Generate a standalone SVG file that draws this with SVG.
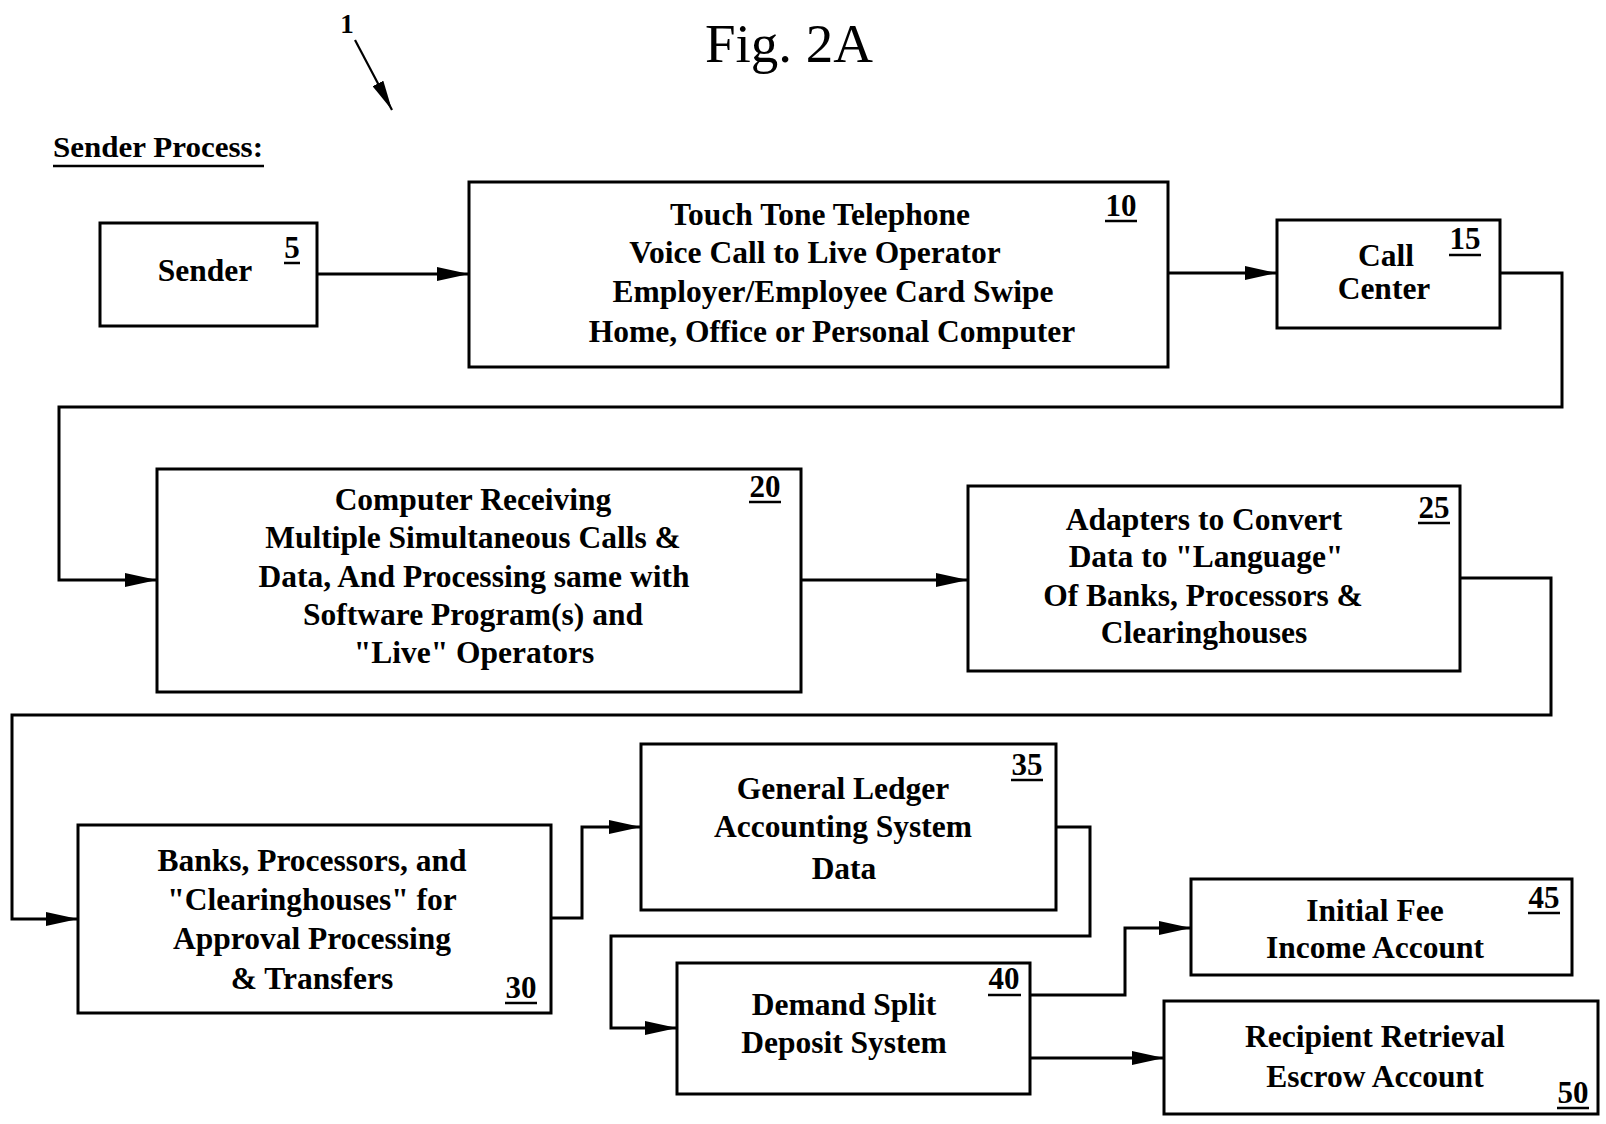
<svg xmlns="http://www.w3.org/2000/svg" width="1606" height="1124" viewBox="0 0 1606 1124">
  <style>
    .box { fill: #fff; stroke: #000; stroke-width: 3; }
    .t { font-family: "Liberation Serif", "Times New Roman", serif; font-weight: bold; font-size: 31.5px; text-anchor: middle; fill: #000; }
    .n { font-family: "Liberation Serif", "Times New Roman", serif; font-weight: bold; font-size: 31px; text-anchor: middle; fill: #000; }
    .ul { stroke: #000; stroke-width: 2.5; }
    .conn { fill: none; stroke: #000; stroke-width: 3; }
  </style>
  <defs>
    <marker id="arrow" markerUnits="userSpaceOnUse" markerWidth="32" markerHeight="14" refX="32" refY="7" orient="auto">
      <path d="M0,0 L32,7 L0,14 Z" fill="#000"/>
    </marker>
    <marker id="arrowThin" markerUnits="userSpaceOnUse" markerWidth="30" markerHeight="12" refX="30" refY="6" orient="auto">
      <path d="M0,0 L30,6 L0,12 Z" fill="#000"/>
    </marker>
  </defs>
  <rect width="1606" height="1124" fill="#fff"/>

  <!-- heading -->
  <g id="title">
    <text x="789" y="62" font-family="Liberation Serif, Times New Roman, serif" font-size="55" text-anchor="middle">Fig. 2A</text>
    <text x="347" y="33" font-family="Liberation Serif, Times New Roman, serif" font-weight="bold" font-size="27" text-anchor="middle">1</text>
    <text x="53" y="157" font-family="Liberation Serif, Times New Roman, serif" font-weight="bold" font-size="30" textLength="210" lengthAdjust="spacingAndGlyphs">Sender Process:</text>
    <line class="ul" x1="53" y1="166" x2="264" y2="166"/>
  </g>

  <!-- connectors -->
  <g id="connectors">
    <path class="conn" style="stroke-width:2.2" d="M355,40 L392,110" marker-end="url(#arrowThin)"/>
    <path class="conn" d="M317,274 L469,274" marker-end="url(#arrow)"/>
    <path class="conn" d="M1168,273 L1277,273" marker-end="url(#arrow)"/>
    <path class="conn" d="M1500,273 L1562,273 L1562,407 L59,407 L59,580 L157,580" marker-end="url(#arrow)"/>
    <path class="conn" d="M801,580 L968,580" marker-end="url(#arrow)"/>
    <path class="conn" d="M1460,578 L1551,578 L1551,715 L12,715 L12,919 L78,919" marker-end="url(#arrow)"/>
    <path class="conn" d="M551,918 L582,918 L582,827 L641,827" marker-end="url(#arrow)"/>
    <path class="conn" d="M1056,827 L1090,827 L1090,936 L611,936 L611,1028 L677,1028" marker-end="url(#arrow)"/>
    <path class="conn" d="M1030,995 L1125,995 L1125,928 L1191,928" marker-end="url(#arrow)"/>
    <path class="conn" d="M1030,1058 L1164,1058" marker-end="url(#arrow)"/>
  </g>

  <!-- nodes -->
  <g id="node5">
    <rect class="box" x="100" y="223" width="217" height="103"/>
    <text class="t" x="205" y="281">Sender</text>
    <text class="n" x="292" y="258">5</text>
    <line class="ul" x1="284" y1="263" x2="300" y2="263"/>
  </g>

  <g id="node10">
    <rect class="box" x="469" y="182" width="699" height="185"/>
    <text class="t" x="820" y="225">Touch Tone Telephone</text>
    <text class="t" x="815" y="263">Voice Call to Live Operator</text>
    <text class="t" x="833" y="302">Employer/Employee Card Swipe</text>
    <text class="t" x="832" y="342">Home, Office or Personal Computer</text>
    <text class="n" x="1121" y="216">10</text>
    <line class="ul" x1="1105" y1="221" x2="1137" y2="221"/>
  </g>

  <g id="node15">
    <rect class="box" x="1277" y="220" width="223" height="108"/>
    <text class="t" x="1386" y="266">Call</text>
    <text class="t" x="1384" y="299">Center</text>
    <text class="n" x="1465" y="249">15</text>
    <line class="ul" x1="1449" y1="255" x2="1481" y2="255"/>
  </g>

  <g id="node20">
    <rect class="box" x="157" y="469" width="644" height="223"/>
    <text class="t" x="473" y="510">Computer Receiving</text>
    <text class="t" x="473" y="548">Multiple Simultaneous Calls &amp;</text>
    <text class="t" x="474" y="587">Data, And Processing same with</text>
    <text class="t" x="473" y="625">Software Program(s) and</text>
    <text class="t" x="474" y="663">"Live" Operators</text>
    <text class="n" x="765" y="497">20</text>
    <line class="ul" x1="749" y1="502" x2="781" y2="502"/>
  </g>

  <g id="node25">
    <rect class="box" x="968" y="486" width="492" height="185"/>
    <text class="t" x="1204" y="530">Adapters to Convert</text>
    <text class="t" x="1206" y="567">Data to "Language"</text>
    <text class="t" x="1203" y="606">Of Banks, Processors &amp;</text>
    <text class="t" x="1204" y="643">Clearinghouses</text>
    <text class="n" x="1434" y="518">25</text>
    <line class="ul" x1="1418" y1="523" x2="1450" y2="523"/>
  </g>

  <g id="node30">
    <rect class="box" x="78" y="825" width="473" height="188"/>
    <text class="t" x="312" y="871">Banks, Processors, and</text>
    <text class="t" x="312" y="910">"Clearinghouses" for</text>
    <text class="t" x="312" y="949">Approval Processing</text>
    <text class="t" x="312" y="989">&amp; Transfers</text>
    <text class="n" x="521" y="998">30</text>
    <line class="ul" x1="505" y1="1003" x2="537" y2="1003"/>
  </g>

  <g id="node35">
    <rect class="box" x="641" y="744" width="415" height="166"/>
    <text class="t" x="843" y="799">General Ledger</text>
    <text class="t" x="843" y="837">Accounting System</text>
    <text class="t" x="844" y="879">Data</text>
    <text class="n" x="1027" y="775">35</text>
    <line class="ul" x1="1011" y1="780" x2="1043" y2="780"/>
  </g>

  <g id="node40">
    <rect class="box" x="677" y="963" width="353" height="131"/>
    <text class="t" x="844" y="1015">Demand Split</text>
    <text class="t" x="844" y="1053">Deposit System</text>
    <text class="n" x="1004" y="989">40</text>
    <line class="ul" x1="988" y1="995" x2="1021" y2="995"/>
  </g>

  <g id="node45">
    <rect class="box" x="1191" y="879" width="381" height="96"/>
    <text class="t" x="1375" y="921">Initial Fee</text>
    <text class="t" x="1375" y="958">Income Account</text>
    <text class="n" x="1544" y="908">45</text>
    <line class="ul" x1="1528" y1="913" x2="1560" y2="913"/>
  </g>

  <g id="node50">
    <rect class="box" x="1164" y="1001" width="434" height="113"/>
    <text class="t" x="1375" y="1047">Recipient Retrieval</text>
    <text class="t" x="1375" y="1087">Escrow Account</text>
    <text class="n" x="1573" y="1103">50</text>
    <line class="ul" x1="1557" y1="1108" x2="1589" y2="1108"/>
  </g>
</svg>
